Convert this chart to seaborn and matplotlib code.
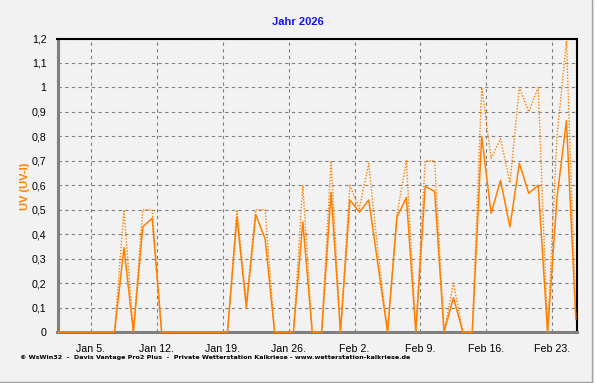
import numpy as np
import pandas as pd
import matplotlib
matplotlib.use("Agg")
import matplotlib.pyplot as plt
import matplotlib.dates as mdates
import matplotlib.ticker as mticker
from matplotlib.lines import Line2D
import seaborn as sns

# ---- data (daily values, plotted at noon) ----
start_day = "2026-01-01 12:00"
n_days = 56
uv = [0, 0, 0, 0, 0, 0, 0,
      0.345, 0, 0.43, 0.465,
      0, 0, 0, 0, 0, 0, 0, 0,
      0.47, 0.10, 0.48, 0.38,
      0, 0, 0,
      0.45,
      0, 0,
      0.57,
      0,
      0.54, 0.49, 0.54, 0.27,
      0,
      0.47, 0.55,
      0,
      0.595, 0.575,
      0,
      0.14,
      0, 0,
      0.80, 0.485, 0.62, 0.43, 0.69, 0.567, 0.60,
      0,
      0.55, 0.864, 0.05]
uv_max = [0, 0, 0, 0, 0, 0, 0,
          0.5, 0, 0.5, 0.5,
          0, 0, 0, 0, 0, 0, 0, 0,
          0.5, 0.12, 0.5, 0.5,
          0, 0, 0,
          0.60,
          0, 0,
          0.70,
          0,
          0.60, 0.505, 0.69, 0.32,
          0,
          0.48, 0.70,
          0,
          0.70, 0.70,
          0,
          0.20,
          0, 0,
          1.0, 0.71, 0.79, 0.61, 1.0, 0.90, 1.0,
          0,
          0.80, 1.19, 0.06]
week_ticks = ["2026-01-05", "2026-01-12", "2026-01-19", "2026-01-26",
              "2026-02-02", "2026-02-09", "2026-02-16", "2026-02-23"]
week_labels = ["Jan 5.", "Jan 12.", "Jan 19.", "Jan 26.",
               "Feb 2.", "Feb 9.", "Feb 16.", "Feb 23."]
y_ticks = [0, 0.1, 0.2, 0.3, 0.4, 0.5, 0.6, 0.7, 0.8, 0.9, 1.0, 1.1, 1.2]
y_labels = ["0", "0,1", "0,2", "0,3", "0,4", "0,5", "0,6", "0,7", "0,8",
            "0,9", "1", "1,1", "1,2"]
title = "Jahr 2026"
ylabel = "UV (UV-I)"
footer = ("\u00a9 WsWin32  -  Davis Vantage Pro2 Plus  -  Private Wetterstation "
          "Kalkriese - www.wetterstation-kalkriese.de")

dates = pd.date_range(start_day, periods=n_days, freq="D")
df = pd.DataFrame({"date": dates, "uv": uv, "uvmax": uv_max})

sns.set_style("white")
plt.rcParams["font.family"] = ["Liberation Sans", "DejaVu Sans"]

W, H = 595, 383
fig = plt.figure(figsize=(W / 100, H / 100), dpi=100, facecolor="#f2f2f2")
ax = fig.add_axes([57.5 / W, (H - 332) / H, (577 - 57.5) / W, (332 - 38.5) / H])
ax.set_facecolor("#f2f2f2")

orange = "#ff8000"
sns.lineplot(data=df, x="date", y="uvmax", ax=ax, color=orange,
             linewidth=1.0, linestyle=(0, (1, 1.2)), zorder=3, clip_on=False)
sns.lineplot(data=df, x="date", y="uv", ax=ax, color=orange,
             linewidth=1.1, zorder=4, clip_on=False)

x0 = mdates.date2num(pd.Timestamp(week_ticks[0]))
x_left = x0 - (91 - 57.5) / 9.414
x_right = mdates.date2num(pd.Timestamp(week_ticks[-1])) + (577 - 552.3) / 9.414
ax.set_xlim(x_left, x_right)
ax.set_ylim(0, 1.2)

maj = [mdates.date2num(pd.Timestamp(t)) for t in week_ticks]
ax.set_xticks(maj)
ax.set_xticklabels(week_labels)
minor = []
m = x0 - 1.75 * 2
while m < x_right:
    minor.append(m)
    m += 1.75
ax.set_xticks(minor, minor=True)
ax.set_yticks(y_ticks)
ax.set_yticklabels(y_labels)
ax.yaxis.set_minor_locator(mticker.MultipleLocator(0.02))

ax.tick_params(axis="both", which="major", direction="out", length=4, width=1,
               color="#808080", labelsize=7.7, labelcolor="black", pad=4)
ax.tick_params(axis="both", which="minor", direction="out", length=2, width=1,
               color="#808080")
ax.tick_params(axis="x", which="major", pad=5)

ax.grid(True, which="major", color="#808080", linestyle=(0, (3, 3)),
        linewidth=0.8, zorder=1)
ax.set_axisbelow(True)

for s in ["left", "bottom"]:
    ax.spines[s].set_color("#808080")
    ax.spines[s].set_linewidth(2.2)
for s in ["top", "right"]:
    ax.spines[s].set_color("black")
    ax.spines[s].set_linewidth(1.5)

ax.set_xlabel("")
ax.set_ylabel("")

fig.text(298 / W, 1 - 22 / H, title, color="#1414f0", fontsize=8,
         fontweight="bold", ha="center", va="center")
fig.text(25 / W, 1 - 186 / H, ylabel, color=orange, fontsize=8,
         fontweight="bold", ha="center", va="center", rotation=90)
fig.text(20 / W, 1 - 358 / H, footer, color="black", fontsize=4.6,
         fontweight="bold", ha="left", va="center",
         family=["DejaVu Sans"])

# window frame
fig.add_artist(Line2D([591.5 / W, 591.5 / W], [1 - 382 / H, 1], transform=fig.transFigure,
                      color="#a0a0a0", linewidth=1))
fig.add_artist(Line2D([0, 592 / W], [1 - 381.5 / H, 1 - 381.5 / H], transform=fig.transFigure,
                      color="#a0a0a0", linewidth=1))

fig.savefig("out.png", dpi=100, facecolor=fig.get_facecolor())
